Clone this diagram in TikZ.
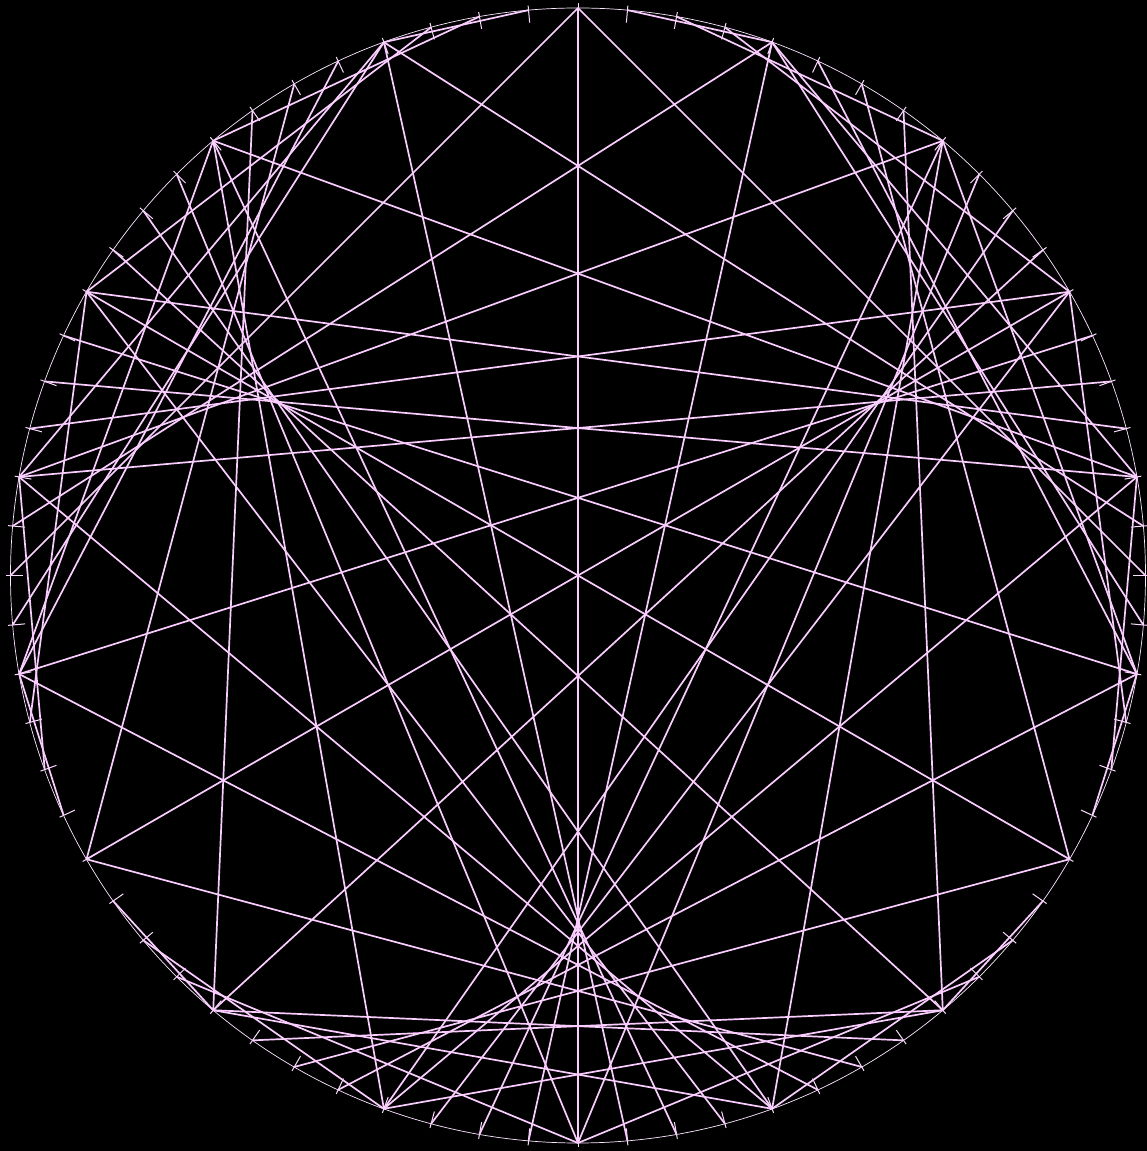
\documentclass[tikz,border=0pt]{standalone}
\definecolor{lc}{RGB}{250,205,255}
\begin{document}
\begin{tikzpicture}[x=1pt,y=1pt,
  chord/.style={draw=lc, line width=1.7pt},
  rim/.style={draw=lc!50!white, line width=0.7pt},
  tickmark/.style={draw=lc!70!white, line width=1pt}]
\fill[black] (0,0) rectangle (1147,1151);
\useasboundingbox (0,0) rectangle (1147,1151);
\coordinate (O) at (578,575.5);
\foreach \i in {0,...,71}{
  \coordinate (p\i) at ([shift={(O)}]{90+5*\i}:567.5);
  \coordinate (t\i) at ([shift={(O)}]{90+5*\i}:555);
  \coordinate (u\i) at ([shift={(O)}]{90+5*\i}:572);
}
\draw[rim] (O) circle (567.5);
\foreach \i in {0,...,71}{
  \draw[tickmark] (t\i) -- (u\i);
}
\foreach \i in {0,...,71}{
  \pgfmathtruncatemacro\j{mod(4*\i,72)}
  \ifnum\i=\j\relax\else
    \draw[chord] (p\i) -- (p\j);
  \fi
}
\end{tikzpicture}
\end{document}
